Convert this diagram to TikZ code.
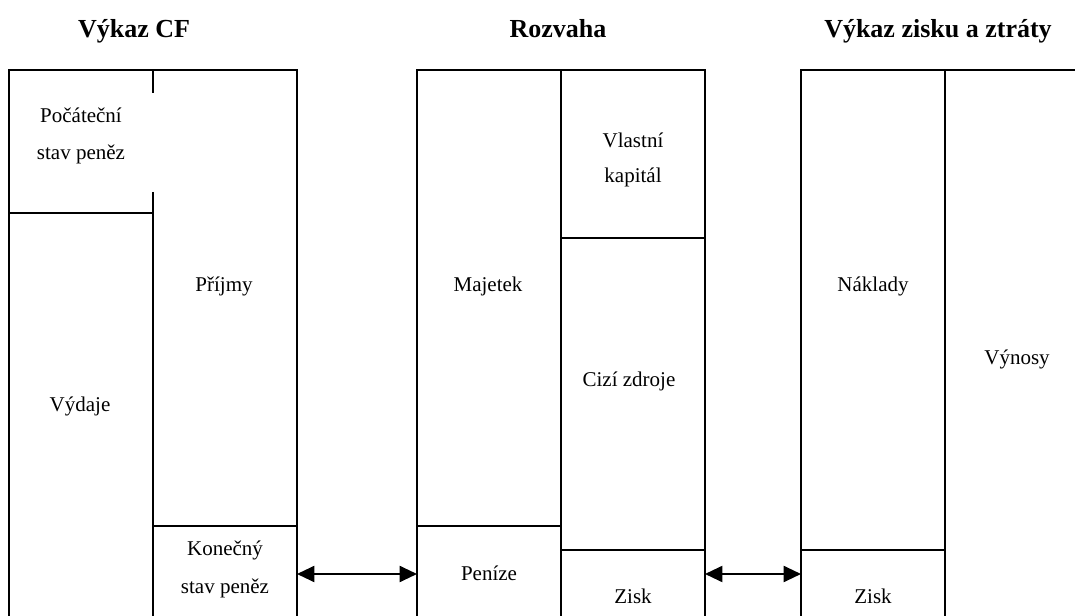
\documentclass[tikz,border=0pt]{standalone}
\usepackage{fontspec}
\setmainfont{Liberation Serif}
\usetikzlibrary{arrows.meta}
\begin{document}
\begin{tikzpicture}[x=0.75pt,y=-0.75pt,
  frame/.style={line width=1.5pt},
  lbl/.style={anchor=base, inner sep=0pt, font=\fontsize{15.75}{18}\selectfont},
  ttl/.style={anchor=base, inner sep=0pt, font=\bfseries\fontsize{19.5}{22}\selectfont},
  link/.style={line width=1.5pt, {Triangle[length=13pt,width=12pt]}-{Triangle[length=13pt,width=12pt]}}]
\useasboundingbox (0,0) rectangle (1075,616);

% titles
\node[ttl] (t1) at (134,38) {Výkaz CF};
\node[ttl] (t2) at (558,38) {Rozvaha};
\node[ttl] (t3) at (938,38) {Výkaz zisku a ztráty};

% Výkaz CF
\draw[frame] (9,616) -- (9,70) -- (297,70) -- (297,616);
\draw[frame] (153,70) -- (153,93);
\draw[frame] (153,192) -- (153,616);
\draw[frame] (9,213) -- (153,213);
\draw[frame] (153,526) -- (297,526);

% Rozvaha
\draw[frame] (417,616) -- (417,70) -- (705,70) -- (705,616);
\draw[frame] (561,70) -- (561,616);
\draw[frame] (561,238) -- (705,238);
\draw[frame] (417,526) -- (561,526);
\draw[frame] (561,550) -- (705,550);

% Výkaz zisku a ztráty
\draw[frame] (801,616) -- (801,70) -- (1075,70);
\draw[frame] (945,70) -- (945,616);
\draw[frame] (801,550) -- (945,550);

% labels
\node[lbl] (poc1) at (81,123) {Počáteční};
\node[lbl] (poc2) at (81,160) {stav peněz};
\node[lbl] (prij) at (224,292) {Příjmy};
\node[lbl] (vyd) at (80,412) {Výdaje};
\node[lbl] (kon1) at (225,555) {Konečný};
\node[lbl] (kon2) at (225,593) {stav peněz};

\node[lbl] (maj) at (488,292) {Majetek};
\node[lbl] (vk1) at (633,148) {Vlastní};
\node[lbl] (vk2) at (633,183) {kapitál};
\node[lbl] (cz) at (629,387) {Cizí zdroje};
\node[lbl] (pen) at (489,580) {Peníze};
\node[lbl] (zisk1) at (633,603) {Zisk};

\node[lbl] (nak) at (873,292) {Náklady};
\node[lbl] (vyn) at (1017,365) {Výnosy};
\node[lbl] (zisk2) at (873,603) {Zisk};

% connectors
\coordinate (aR) at (297,574);
\coordinate (bL) at (417,574);
\coordinate (bR) at (705,574);
\coordinate (cL) at (801,574);
\draw[link] (aR) -- (bL);
\draw[link] (bR) -- (cL);
\end{tikzpicture}
\end{document}
